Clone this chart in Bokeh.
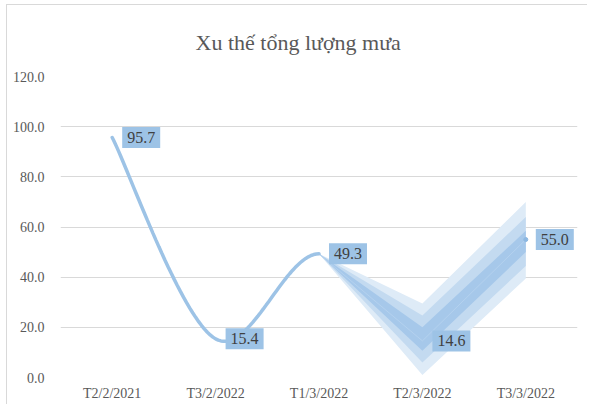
import numpy as np
from bokeh.plotting import figure
from bokeh.models import FixedTicker, Range1d, NumeralTickFormatter, Title
from bokeh.embed import file_html
from bokeh.resources import INLINE
from bokeh.core.properties import value

# ---- data ----
categories = ["T2/2/2021", "T3/2/2022", "T1/3/2022", "T2/3/2022", "T3/3/2022"]
rainfall = [95.7, 15.4, 49.3, 14.6, 55.0]
fan_start = 2  # index of the point where the forecast fan starts
outer_upper = [49.3, 29.5, 70.0]
outer_lower = [49.3, 1.0, 39.5]
mid_upper = [49.3, 24.7, 64.0]
mid_lower = [49.3, 6.0, 44.5]
inner_upper = [49.3, 20.0, 58.5]
inner_lower = [49.3, 10.7, 50.0]
y_ticks = [0, 20, 40, 60, 80, 100, 120]
title_text = "Xu thế tổng lượng mưa"

TXT = "#595959"
BLUE = "#9DC3E6"
SERIF = "Liberation Serif"

xs = [i + 0.5 for i in range(len(categories))]


def catmull_rom(px, py, seg_from, seg_to, n=40):
    P = list(zip(px, py))
    P = [P[0]] + P + [P[-1]]
    outx, outy = [], []
    for s in range(seg_from, seg_to):
        p0, p1, p2, p3 = P[s], P[s + 1], P[s + 2], P[s + 3]
        c1 = (p1[0] + (p2[0] - p0[0]) / 6, p1[1] + (p2[1] - p0[1]) / 6)
        c2 = (p2[0] - (p3[0] - p1[0]) / 6, p2[1] - (p3[1] - p1[1]) / 6)
        t = np.linspace(0, 1, n)
        bx = (1 - t) ** 3 * p1[0] + 3 * (1 - t) ** 2 * t * c1[0] + 3 * (1 - t) * t ** 2 * c2[0] + t ** 3 * p2[0]
        by = (1 - t) ** 3 * p1[1] + 3 * (1 - t) ** 2 * t * c1[1] + 3 * (1 - t) * t ** 2 * c2[1] + t ** 3 * p2[1]
        outx += list(bx); outy += list(by)
    return outx, outy


p = figure(width=581, height=400, x_range=Range1d(0, len(categories)), y_range=Range1d(0, 120),
           output_backend="svg", toolbar_location=None,
           min_border_left=53, min_border_right=11, min_border_top=70, min_border_bottom=28)
p.styles = {"margin-left": "6px", "margin-top": "4px",
            "border-top": "1px solid #d9d9d9", "border-left": "1px solid #d9d9d9"}
p.outline_line_color = None
p.background_fill_color = "white"
p.border_fill_color = "white"

t = Title(text=title_text, align="left", text_font=SERIF, text_font_size="22px",
          text_color=TXT, text_font_style="normal", offset=135, standoff=44)
p.add_layout(t, "above")

# axes
p.xaxis.ticker = FixedTicker(ticks=xs)
p.xaxis.major_label_overrides = {x: c for x, c in zip(xs, categories)}
p.yaxis.ticker = FixedTicker(ticks=y_ticks)
p.yaxis.formatter = NumeralTickFormatter(format="0.0")
for ax in (p.xaxis, p.yaxis):
    ax.axis_line_color = None
    ax.major_tick_line_color = None
    ax.minor_tick_line_color = None
    ax.major_label_text_font = SERIF
    ax.major_label_text_font_size = "14px"
    ax.major_label_text_color = TXT
p.yaxis.major_label_standoff = 10
p.xaxis.major_label_standoff = 2
p.xgrid.grid_line_color = None
p.ygrid.grid_line_color = "#d9d9d9"
p.ygrid.grid_line_width = 1

# forecast fan
fx = xs[fan_start:]
for lo, hi, col in ((outer_lower, outer_upper, "#DEEBF7"),
                    (mid_lower, mid_upper, "#C3DAF0"),
                    (inner_lower, inner_upper, "#A6C8EA")):
    p.varea(x=fx, y1=lo, y2=hi, fill_color=col)
p.line(fx, rainfall[fan_start:], line_color="#B4D1EE", line_width=1)

# smoothed main line
cx, cy = catmull_rom(xs, rainfall, 0, fan_start)
p.line(cx, cy, line_color=BLUE, line_width=3.5, line_cap="round")
p.scatter([xs[-1]], [rainfall[-1]], size=4, color="#8DB8E2")

# data labels
p.text(x=xs, y=rainfall, text=[f"{v:.1f}" for v in rainfall], x_offset=10,
       text_align="left", text_baseline="middle", text_font=value(SERIF), text_font_size="16px",
       text_color="#404040", background_fill_color=BLUE, padding=5)

open("out.html", "w").write(file_html(p, INLINE))
